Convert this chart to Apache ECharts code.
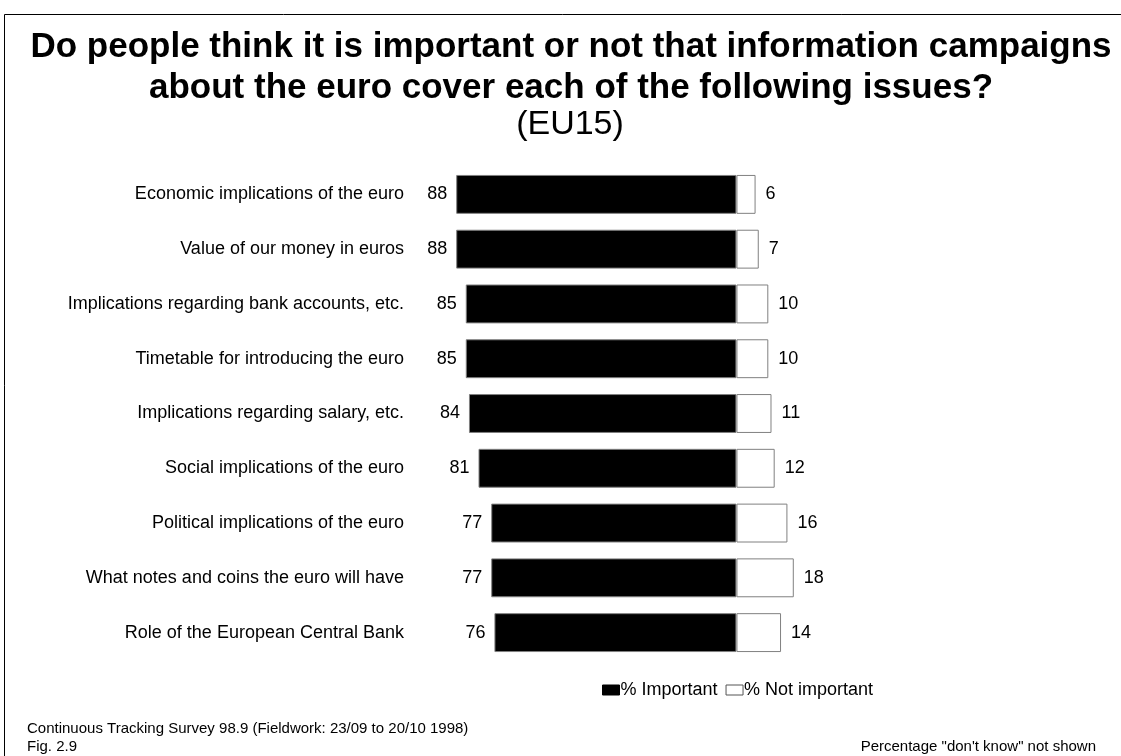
<!DOCTYPE html>
<html>
<head>
<meta charset="utf-8">
<style>
  html, body { margin: 0; padding: 0; background: #fff; }
  #chart { width: 1121px; height: 756px; }
</style>
<script src="https://cdn.jsdelivr.net/npm/echarts@6/dist/echarts.min.js"></script>
</head>
<body>
<div id="chart"></div>
<script>
// Issues that information campaigns about the euro could cover
const categories = [
  'Economic implications of the euro',
  'Value of our money in euros',
  'Implications regarding bank accounts, etc.',
  'Timetable for introducing the euro',
  'Implications regarding salary, etc.',
  'Social implications of the euro',
  'Political implications of the euro',
  'What notes and coins the euro will have',
  'Role of the European Central Bank'
];
const important = [88, 88, 85, 85, 84, 81, 77, 77, 76];
const notImportant = [6, 7, 10, 10, 11, 12, 16, 18, 14];

const FONT = 'Liberation Sans, Arial, sans-serif';

const chart = echarts.init(document.getElementById('chart'), null, { renderer: 'canvas' });

chart.setOption({
  backgroundColor: '#ffffff',
  animation: false,
  textStyle: { fontFamily: FONT, color: '#000' },
  legend: {
    data: [
      { name: '% Important', icon: 'rect', itemStyle: { color: '#000', borderColor: '#000', borderWidth: 1 } },
      { name: '% Not important', icon: 'rect', itemStyle: { color: '#fff', borderColor: '#555', borderWidth: 1 } }
    ],
    left: 597, top: 676,
    itemWidth: 17, itemHeight: 10, itemGap: 8,
    textStyle: { fontFamily: FONT, fontSize: 18, color: '#000', padding: [0, 0, 0, -4] },
    selectedMode: false
  },
  grid: { left: 418, right: 289, top: 167, bottom: 96, containLabel: false },
  xAxis: {
    type: 'value', min: -100, max: 30,
    show: false
  },
  yAxis: {
    type: 'category', data: categories, inverse: true,
    axisLine: { show: false }, axisTick: { show: false },
    axisLabel: {
      fontFamily: FONT, fontSize: 18, color: '#000',
      margin: 14
    }
  },
  series: [
    {
      name: '% Important', type: 'bar',
      data: important.map(v => -v),
      barCategoryGap: '29%', barGap: '-100%',
      itemStyle: { color: '#000', borderColor: '#808080', borderWidth: 1 },
      label: {
        show: true, position: 'left', distance: 9,
        fontFamily: FONT, fontSize: 18, color: '#000',
        formatter: p => Math.abs(p.value)
      }
    },
    {
      name: '% Not important', type: 'bar',
      data: notImportant,
      barCategoryGap: '29%', barGap: '-100%',
      itemStyle: { color: '#fff', borderColor: '#808080', borderWidth: 1 },
      label: {
        show: true, position: 'right', distance: 10,
        fontFamily: FONT, fontSize: 18, color: '#000'
      }
    }
  ],
  graphic: [
    // frame around the figure (top and left edges)
    { type: 'line', shape: { x1: 4.5, y1: 14.5, x2: 1121, y2: 14.5 }, style: { stroke: '#000', lineWidth: 1 } },
    { type: 'line', shape: { x1: 4.5, y1: 14.5, x2: 4.5, y2: 756 }, style: { stroke: '#000', lineWidth: 1 } },
    // heading
    {
      type: 'text', x: 571, y: 27,
      style: {
        text: 'Do people think it is important or not that information campaigns\nabout the euro cover each of the following issues?',
        font: 'bold 35px ' + FONT, fill: '#000', align: 'center', verticalAlign: 'top', lineHeight: 41
      }
    },
    {
      type: 'text', x: 570, y: 108,
      style: { text: '(EU15)', font: '34px ' + FONT, fill: '#000', align: 'center', verticalAlign: 'top', lineHeight: 34 }
    },
    // footnotes
    {
      type: 'text', left: 27, top: 721,
      style: { text: 'Continuous Tracking Survey 98.9 (Fieldwork: 23/09 to 20/10 1998)', font: '15px ' + FONT, fill: '#000' }
    },
    {
      type: 'text', left: 27, top: 739,
      style: { text: 'Fig. 2.9', font: '15px ' + FONT, fill: '#000' }
    },
    {
      type: 'text', right: 25, top: 739,
      style: { text: 'Percentage "don\'t know" not shown', font: '15px ' + FONT, fill: '#000' }
    }
  ]
});
</script>
</body>
</html>
